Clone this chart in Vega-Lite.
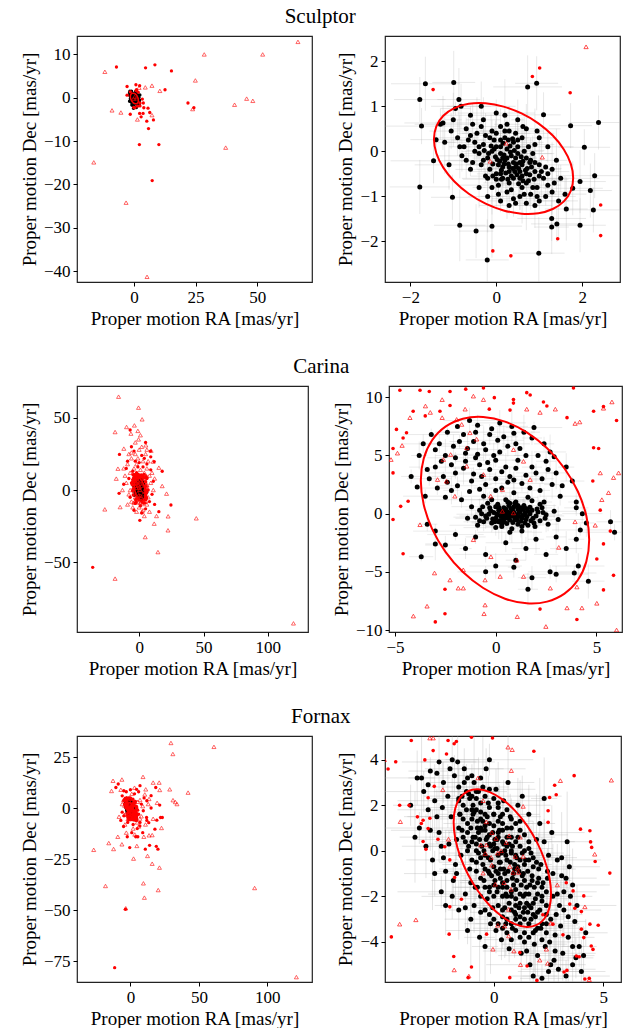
{
"$schema":"https://vega.github.io/schema/vega-lite/v6.json",
"padding":{"left":19,"top":6,"right":0,"bottom":0},
"config":{"view":{"stroke":"#222","strokeWidth":1.2},"font":"Liberation Serif",
"axis":{"grid":false,"domain":false,"tickColor":"black","tickSize":4,"labelFont":"Liberation Serif","labelFontSize":17,"labelColor":"black","titleFont":"Liberation Serif","titleFontSize":19,"titleFontWeight":"normal","titleColor":"black","labelPadding":3,"titlePadding":4,"labelFlush":false,"labelOverlap":false},
"title":{"font":"Liberation Serif","fontSize":21,"fontWeight":"normal","color":"black","anchor":"middle"}},
"datasets":{
"sm":[
{"x":0.2,"y":-0.2,"ex":0.3,"ey":0.25},{"x":0.35,"y":-0.1,"ex":0.5,"ey":0.4},{"x":0.05,"y":-0.3,"ex":0.2,"ey":0.6},{"x":0.45,"y":-0.35,"ex":0.7,"ey":0.2},{"x":-0.1,"y":0.0,"ex":0.4,"ey":0.5},{"x":0.3,"y":-0.45,"ex":0.9,"ey":0.3},{"x":0.6,"y":-0.3,"ex":0.25,"ey":0.7},{"x":0.1,"y":0.1,"ex":0.6,"ey":0.35},{"x":-0.2,"y":-0.15,"ex":0.35,"ey":0.15},{"x":0.5,"y":-0.05,"ex":0.8,"ey":0.55},
{"x":0.25,"y":0.05,"ex":0.15,"ey":0.45},{"x":0.0,"y":-0.5,"ex":0.45,"ey":0.8},{"x":0.7,"y":-0.5,"ex":0.3,"ey":0.25},{"x":-0.3,"y":0.15,"ex":0.5,"ey":0.4},{"x":0.15,"y":-0.6,"ex":0.2,"ey":0.6},{"x":0.4,"y":0.2,"ex":0.7,"ey":0.2},{"x":0.8,"y":-0.2,"ex":0.4,"ey":0.5},{"x":-0.05,"y":0.25,"ex":0.9,"ey":0.3},{"x":0.55,"y":-0.6,"ex":0.25,"ey":0.7},{"x":0.3,"y":-0.7,"ex":0.6,"ey":0.35},
{"x":-0.4,"y":-0.05,"ex":0.35,"ey":0.15},{"x":0.9,"y":-0.45,"ex":0.8,"ey":0.55},{"x":0.1,"y":-0.05,"ex":0.15,"ey":0.45},{"x":0.65,"y":0.0,"ex":0.45,"ey":0.8},{"x":-0.15,"y":-0.4,"ex":0.3,"ey":0.25},{"x":0.45,"y":-0.15,"ex":0.5,"ey":0.4},{"x":0.2,"y":0.3,"ex":0.2,"ey":0.6},{"x":0.75,"y":-0.65,"ex":0.7,"ey":0.2},{"x":-0.25,"y":0.35,"ex":0.4,"ey":0.5},{"x":0.05,"y":-0.75,"ex":0.9,"ey":0.3},
{"x":0.5,"y":0.1,"ex":0.25,"ey":0.7},{"x":0.35,"y":-0.55,"ex":0.6,"ey":0.35},{"x":-0.35,"y":-0.3,"ex":0.35,"ey":0.15},{"x":1.0,"y":-0.3,"ex":0.8,"ey":0.55},{"x":0.15,"y":-0.35,"ex":0.15,"ey":0.45},{"x":0.6,"y":-0.8,"ex":0.45,"ey":0.8},{"x":-0.1,"y":0.45,"ex":0.3,"ey":0.25},{"x":0.85,"y":-0.05,"ex":0.5,"ey":0.4},{"x":0.25,"y":-0.9,"ex":0.2,"ey":0.6},{"x":-0.5,"y":0.2,"ex":0.7,"ey":0.2},
{"x":0.4,"y":-0.25,"ex":0.4,"ey":0.5},{"x":0.0,"y":0.1,"ex":0.9,"ey":0.3},{"x":0.7,"y":-0.15,"ex":0.25,"ey":0.7},{"x":-0.2,"y":-0.6,"ex":0.6,"ey":0.35},{"x":1.1,"y":-0.6,"ex":0.35,"ey":0.15},{"x":0.3,"y":0.45,"ex":0.8,"ey":0.55},{"x":0.55,"y":-0.45,"ex":0.15,"ey":0.45},{"x":-0.45,"y":0.4,"ex":0.45,"ey":0.8},{"x":0.95,"y":-0.8,"ex":0.3,"ey":0.25},{"x":0.1,"y":0.55,"ex":0.5,"ey":0.4},
{"x":0.15,"y":-0.15,"ex":0.2,"ey":0.6},{"x":0.38,"y":-0.38,"ex":0.7,"ey":0.2},{"x":0.62,"y":-0.22,"ex":0.4,"ey":0.5},{"x":0.08,"y":-0.22,"ex":0.9,"ey":0.3},{"x":-0.12,"y":0.12,"ex":0.25,"ey":0.7},{"x":0.28,"y":-0.28,"ex":0.6,"ey":0.35},{"x":0.48,"y":-0.52,"ex":0.35,"ey":0.15},{"x":0.72,"y":-0.38,"ex":0.8,"ey":0.55},{"x":0.22,"y":-0.48,"ex":0.15,"ey":0.45},{"x":-0.02,"y":-0.12,"ex":0.45,"ey":0.8},
{"x":0.32,"y":0.12,"ex":0.3,"ey":0.25},{"x":0.52,"y":-0.72,"ex":0.5,"ey":0.4},{"x":0.18,"y":-0.08,"ex":0.2,"ey":0.6},{"x":0.42,"y":0.02,"ex":0.7,"ey":0.2},{"x":-0.28,"y":0.02,"ex":0.4,"ey":0.5},{"x":0.12,"y":-0.62,"ex":0.9,"ey":0.3},{"x":0.78,"y":-0.52,"ex":0.25,"ey":0.7},{"x":-0.08,"y":-0.28,"ex":0.6,"ey":0.35},{"x":0.58,"y":-0.12,"ex":0.35,"ey":0.15},{"x":0.88,"y":-0.62,"ex":0.8,"ey":0.55},
{"x":-0.7,"y":0.5,"ex":0.3,"ey":0.25},{"x":-0.9,"y":0.3,"ex":0.5,"ey":0.4},{"x":-1.0,"y":0.7,"ex":0.2,"ey":0.6},{"x":-0.6,"y":0.8,"ex":0.7,"ey":0.2},{"x":-0.3,"y":0.7,"ex":0.4,"ey":0.5},{"x":0.0,"y":0.85,"ex":0.9,"ey":0.3},{"x":-1.2,"y":0.2,"ex":0.25,"ey":0.7},{"x":-0.8,"y":-0.1,"ex":0.6,"ey":0.35},{"x":-0.6,"y":-0.4,"ex":0.35,"ey":0.15},{"x":-1.1,"y":-0.3,"ex":0.8,"ey":0.55},
{"x":-0.4,"y":-0.8,"ex":0.15,"ey":0.45},{"x":-0.2,"y":-1.0,"ex":0.45,"ey":0.8},{"x":0.1,"y":-1.1,"ex":0.3,"ey":0.25},{"x":0.4,"y":-1.05,"ex":0.5,"ey":0.4},{"x":0.7,"y":-1.15,"ex":0.2,"ey":0.6},{"x":1.0,"y":-1.1,"ex":0.7,"ey":0.2},{"x":1.3,"y":-0.9,"ex":0.4,"ey":0.5},{"x":1.5,"y":-0.6,"ex":0.9,"ey":0.3},{"x":1.4,"y":-0.2,"ex":0.25,"ey":0.7},{"x":1.2,"y":0.1,"ex":0.6,"ey":0.35},
{"x":1.0,"y":0.3,"ex":0.35,"ey":0.15},{"x":0.7,"y":0.5,"ex":0.8,"ey":0.55},{"x":0.5,"y":0.7,"ex":0.15,"ey":0.45},{"x":0.2,"y":0.8,"ex":0.45,"ey":0.8},{"x":-0.5,"y":0.0,"ex":0.3,"ey":0.25},{"x":-0.7,"y":-0.2,"ex":0.5,"ey":0.4},{"x":1.3,"y":-0.4,"ex":0.2,"ey":0.6},{"x":1.15,"y":-1.0,"ex":0.7,"ey":0.2},{"x":0.9,"y":-1.2,"ex":0.4,"ey":0.5},{"x":0.55,"y":-1.0,"ex":0.9,"ey":0.3},
{"x":-0.85,"y":0.1,"ex":0.25,"ey":0.7},{"x":-1.3,"y":0.6,"ex":0.6,"ey":0.35},{"x":-0.95,"y":0.95,"ex":0.35,"ey":0.15},{"x":-0.35,"y":1.0,"ex":0.8,"ey":0.55},{"x":0.6,"y":0.3,"ex":0.15,"ey":0.45},{"x":0.9,"y":0.15,"ex":0.45,"ey":0.8},{"x":1.2,"y":-0.75,"ex":0.3,"ey":0.25},{"x":1.6,"y":-0.95,"ex":0.5,"ey":0.4},{"x":-0.1,"y":-0.8,"ex":0.2,"ey":0.6},{"x":0.3,"y":-1.2,"ex":0.7,"ey":0.2},
{"x":-0.65,"y":0.25,"ex":0.4,"ey":0.5},{"x":0.45,"y":0.4,"ex":0.9,"ey":0.3},{"x":1.05,"y":-0.45,"ex":0.25,"ey":0.7},{"x":0.8,"y":-0.95,"ex":0.6,"ey":0.35},{"x":-0.25,"y":-0.55,"ex":0.35,"ey":0.15},{"x":0.0,"y":0.4,"ex":0.8,"ey":0.55},{"x":-0.55,"y":0.6,"ex":0.15,"ey":0.45},{"x":1.45,"y":-1.1,"ex":0.45,"ey":0.8},{"x":0.25,"y":0.6,"ex":0.3,"ey":0.25},{"x":-1.05,"y":0.45,"ex":0.5,"ey":0.4},
{"x":-1.78,"y":1.15,"ex":0.6,"ey":0.5},{"x":-1.65,"y":1.5,"ex":0.8,"ey":0.6},{"x":-0.99,"y":1.53,"ex":0.5,"ey":0.7},{"x":-1.74,"y":0.56,"ex":0.9,"ey":0.4},{"x":-1.78,"y":-0.79,"ex":0.7,"ey":0.6},{"x":-1.02,"y":-1.02,"ex":0.5,"ey":0.5},{"x":-0.85,"y":-1.64,"ex":0.6,"ey":0.8},{"x":-0.47,"y":-1.77,"ex":0.4,"ey":0.6},{"x":-0.1,"y":-1.66,"ex":0.7,"ey":0.7},{"x":-0.21,"y":-2.41,"ex":0.5,"ey":0.9},
{"x":0.99,"y":-2.26,"ex":0.6,"ey":0.8},{"x":0.94,"y":1.51,"ex":0.5,"ey":0.6},{"x":0.73,"y":1.43,"ex":0.8,"ey":0.7},{"x":1.1,"y":0.81,"ex":0.4,"ey":0.5},{"x":2.38,"y":0.64,"ex":0.7,"ey":0.6},{"x":2.05,"y":0.09,"ex":0.6,"ey":0.4},{"x":2.29,"y":-0.54,"ex":0.9,"ey":0.5},{"x":2.19,"y":-0.87,"ex":0.5,"ey":0.6},{"x":1.95,"y":-0.67,"ex":0.6,"ey":0.7},{"x":2.26,"y":-1.3,"ex":0.7,"ey":0.5},
{"x":1.95,"y":-1.64,"ex":0.6,"ey":0.6},{"x":1.63,"y":-1.28,"ex":0.5,"ey":0.7},{"x":1.29,"y":-1.49,"ex":0.8,"ey":0.5},{"x":1.29,"y":-1.68,"ex":0.4,"ey":0.6},{"x":1.41,"y":-1.61,"ex":0.6,"ey":0.4},{"x":1.78,"y":-0.82,"ex":0.7,"ey":0.6},{"x":1.73,"y":0.57,"ex":0.5,"ey":0.5},{"x":-1.24,"y":0.63,"ex":0.9,"ey":0.6},{"x":-1.4,"y":0.26,"ex":0.6,"ey":0.4},{"x":-1.46,"y":-0.21,"ex":1.0,"ey":0.5},
{"x":-0.87,"y":1.15,"ex":0.5,"ey":0.7},{"x":-0.82,"y":1.0,"ex":0.7,"ey":0.5}
],
"sx":[
{"x":0.02,"y":-0.18},{"x":0.12,"y":-0.42},{"x":0.33,"y":-0.02},{"x":0.55,"y":-0.25},{"x":0.68,"y":-0.42},{"x":0.27,"y":-0.62},{"x":0.43,"y":-0.45},{"x":-0.05,"y":0.05},{"x":0.16,"y":0.18},{"x":0.38,"y":0.28},
{"x":0.6,"y":-0.55},{"x":0.82,"y":-0.35},{"x":0.0,"y":-0.62},{"x":-0.18,"y":-0.05},{"x":0.25,"y":-0.15},{"x":0.47,"y":-0.28},{"x":0.7,"y":-0.7},{"x":0.9,"y":-0.25},{"x":0.1,"y":-0.5},{"x":-0.3,"y":-0.2},
{"x":0.35,"y":-0.85},{"x":0.65,"y":-0.95},{"x":1.0,"y":-0.55},{"x":0.2,"y":0.45},{"x":-0.15,"y":0.3},{"x":0.5,"y":0.25},{"x":0.75,"y":0.1},{"x":-0.4,"y":0.1},{"x":0.05,"y":-0.95},{"x":0.85,"y":-0.8},
{"x":1.15,"y":-0.35},{"x":0.3,"y":-0.35},{"x":0.52,"y":-0.38},{"x":0.18,"y":-0.28},{"x":0.4,"y":-0.6},{"x":0.62,"y":-0.65},{"x":-0.08,"y":-0.55},{"x":0.1,"y":0.25},{"x":0.28,"y":0.25},{"x":0.78,"y":-0.25},
{"x":1.2,"y":-0.5},{"x":0.95,"y":-1.0},{"x":0.45,"y":-1.15},{"x":-0.35,"y":0.55},{"x":-0.6,"y":0.35},{"x":-0.75,"y":0.1},{"x":0.62,"y":0.55},{"x":0.95,"y":0.45},{"x":1.35,"y":-0.7},{"x":-0.55,"y":-0.25}
],
"so":[
{"c":"d","x":-7.1,"y":7.1},{"c":"d","x":4.7,"y":6.9},{"c":"d","x":8.5,"y":7.6},{"c":"d","x":15.2,"y":6.2},{"c":"d","x":-2.8,"y":2.6},{"c":"d","x":0.8,"y":3.0},{"c":"d","x":2.3,"y":2.8},{"c":"d","x":12.6,"y":1.85},{"c":"d","x":21.9,"y":-1.2},{"c":"d","x":24.3,"y":-2.3},{"c":"d","x":-2.8,"y":0.6},{"c":"d","x":-1.5,"y":-3.8},{"c":"d","x":2.3,"y":-3.6},{"c":"d","x":3.7,"y":-3.6},{"c":"d","x":4.0,"y":-2.3},{"c":"d","x":5.7,"y":-2.4},{"c":"d","x":6.4,"y":-3.4},{"c":"d","x":2.9,"y":-4.4},{"c":"d","x":5.2,"y":-5.4},{"c":"d","x":7.9,"y":-5.1},{"c":"d","x":5.9,"y":-7.1},{"c":"d","x":2.2,"y":-10.8},{"c":"d","x":10.1,"y":-10.8},{"c":"d","x":7.4,"y":-19.1},{"c":"d","x":3.8,"y":-1.2},{"c":"d","x":3.4,"y":-0.3},
{"c":"d","x":-1.47,"y":1.37},{"c":"d","x":0.84,"y":1.66},{"c":"d","x":1.01,"y":1.85},{"c":"d","x":1.72,"y":1.3},{"c":"d","x":2.43,"y":-1.19},{"c":"d","x":2.43,"y":-1.87},{"c":"d","x":1.43,"y":-1.94},{"c":"d","x":-0.08,"y":-2.21},{"c":"d","x":0.34,"y":-2.32},
{"c":"t","x":66.5,"y":12.9},{"c":"t","x":28.5,"y":10},{"c":"t","x":52.2,"y":10},{"c":"t","x":-11.8,"y":6.0},{"c":"t","x":24.9,"y":4.0},{"c":"t","x":7.3,"y":2.8},{"c":"t","x":4.6,"y":2.4},{"c":"t","x":10.5,"y":1.6},{"c":"t","x":45.7,"y":-0.2},{"c":"t","x":48.2,"y":-0.7},{"c":"t","x":40.8,"y":-1.6},{"c":"t","x":23.8,"y":-2.6},{"c":"t","x":-8.9,"y":-2.9},{"c":"t","x":-5.3,"y":-3.4},{"c":"t","x":1.4,"y":-5.0},{"c":"t","x":7.3,"y":-4.0},{"c":"t","x":37.2,"y":-11.5},{"c":"t","x":-16.3,"y":-14.9},{"c":"t","x":-3.2,"y":-24.2},{"c":"t","x":5.3,"y":-41.3},{"c":"t","x":2.09,"y":2.32},{"c":"t","x":-0.14,"y":-0.22},{"c":"t","x":0.23,"y":0.18},{"c":"t","x":1.07,"y":-0.13}
],
"se":[
{"i":0,"x":1.79,"y":-0.592},{"i":1,"x":1.735,"y":-0.279},{"i":2,"x":1.573,"y":0.042},{"i":3,"x":1.315,"y":0.35},{"i":4,"x":0.98,"y":0.622},{"i":5,"x":0.589,"y":0.841},{"i":6,"x":0.17,"y":0.992},{"i":7,"x":-0.249,"y":1.065},{"i":8,"x":-0.64,"y":1.054},{"i":9,"x":-0.975,"y":0.96},{"i":10,"x":-1.233,"y":0.79},{"i":11,"x":-1.395,"y":0.555},{"i":12,"x":-1.45,"y":0.272},{"i":13,"x":-1.395,"y":-0.041},{"i":14,"x":-1.233,"y":-0.362},{"i":15,"x":-0.975,"y":-0.67},{"i":16,"x":-0.64,"y":-0.942},{"i":17,"x":-0.249,"y":-1.161},{"i":18,"x":0.17,"y":-1.312},{"i":19,"x":0.589,"y":-1.385},{"i":20,"x":0.98,"y":-1.374},{"i":21,"x":1.315,"y":-1.28},{"i":22,"x":1.573,"y":-1.11},{"i":23,"x":1.735,"y":-0.875}
],
"cm":[
{"x":0.5,"y":0,"ex":0.5,"ey":0.6},{"x":0.2,"y":0.3,"ex":1.0,"ey":0.8},{"x":0.8,"y":-0.2,"ex":0.4,"ey":1.2},{"x":0,"y":-0.4,"ex":1.4,"ey":0.5},{"x":1.2,"y":0.1,"ex":0.7,"ey":1.0},{"x":0.4,"y":-0.7,"ex":1.6,"ey":0.7},{"x":-0.3,"y":0.5,"ex":0.5,"ey":1.4},{"x":1.5,"y":-0.5,"ex":1.1,"ey":0.6},{"x":0.9,"y":0.6,"ex":0.6,"ey":0.4},{"x":-0.5,"y":-0.2,"ex":1.3,"ey":1.1},
{"x":1.8,"y":0.3,"ex":0.3,"ey":0.9},{"x":0.3,"y":-1.1,"ex":0.8,"ey":1.5},{"x":1.1,"y":-0.9,"ex":0.5,"ey":0.6},{"x":-0.2,"y":-0.8,"ex":1.0,"ey":0.8},{"x":0.7,"y":0.9,"ex":0.4,"ey":1.2},{"x":2.0,"y":-0.2,"ex":1.4,"ey":0.5},{"x":-0.8,"y":0.3,"ex":0.7,"ey":1.0},{"x":1.4,"y":0.7,"ex":1.6,"ey":0.7},{"x":0.1,"y":0.8,"ex":0.5,"ey":1.4},{"x":0.6,"y":-0.4,"ex":1.1,"ey":0.6},
{"x":1.0,"y":-0.1,"ex":0.6,"ey":0.4},{"x":0.3,"y":0.1,"ex":1.3,"ey":1.1},{"x":-0.1,"y":0.1,"ex":0.3,"ey":0.9},{"x":1.6,"y":-1.0,"ex":0.8,"ey":1.5},{"x":2.3,"y":0.5,"ex":0.5,"ey":0.6},{"x":-0.6,"y":-0.7,"ex":1.0,"ey":0.8},{"x":0.8,"y":-1.3,"ex":0.4,"ey":1.2},{"x":0.5,"y":1.2,"ex":1.4,"ey":0.5},{"x":1.3,"y":-0.4,"ex":0.7,"ey":1.0},{"x":0,"y":-1.2,"ex":1.6,"ey":0.7},
{"x":1.9,"y":-0.8,"ex":0.5,"ey":1.4},{"x":-1.0,"y":-0.3,"ex":1.1,"ey":0.6},{"x":2.2,"y":-0.6,"ex":0.6,"ey":0.4},{"x":0.4,"y":0.5,"ex":1.3,"ey":1.1},{"x":-0.4,"y":0.9,"ex":0.3,"ey":0.9},{"x":1.1,"y":0.4,"ex":0.8,"ey":1.5},{"x":0.65,"y":-0.15,"ex":0.5,"ey":0.6},{"x":0.25,"y":-0.25,"ex":1.0,"ey":0.8},{"x":1.45,"y":0.05,"ex":0.4,"ey":1.2},{"x":0.85,"y":0.25,"ex":1.4,"ey":0.5},
{"x":-0.15,"y":-0.45,"ex":0.7,"ey":1.0},{"x":0.55,"y":-0.85,"ex":1.6,"ey":0.7},{"x":1.25,"y":-0.65,"ex":0.5,"ey":1.4},{"x":1.7,"y":0,"ex":1.1,"ey":0.6},{"x":0.15,"y":0.55,"ex":0.6,"ey":0.4},{"x":0.95,"y":-0.5,"ex":1.3,"ey":1.1},{"x":-0.7,"y":0,"ex":0.3,"ey":0.9},{"x":2.5,"y":-0.1,"ex":0.8,"ey":1.5},{"x":1.0,"y":1.0,"ex":0.5,"ey":0.6},{"x":0.35,"y":-0.55,"ex":1.0,"ey":0.8},
{"x":0.75,"y":0.45,"ex":0.4,"ey":1.2},{"x":1.55,"y":-0.25,"ex":1.4,"ey":0.5},{"x":0.05,"y":-0.05,"ex":0.7,"ey":1.0},{"x":-0.35,"y":-0.05,"ex":1.6,"ey":0.7},{"x":2.1,"y":0.15,"ex":0.5,"ey":1.4},{"x":0.45,"y":0.2,"ex":1.1,"ey":0.6},{"x":1.15,"y":-0.25,"ex":0.6,"ey":0.4},{"x":0.6,"y":0.15,"ex":1.3,"ey":1.1},{"x":1.35,"y":0.35,"ex":0.3,"ey":0.9},{"x":0.15,"y":-0.7,"ex":0.8,"ey":1.5},
{"x":2.6,"y":-0.9,"ex":0.5,"ey":0.6},{"x":-1.2,"y":0.6,"ex":1.0,"ey":0.8},{"x":2.4,"y":1.0,"ex":0.4,"ey":1.2},{"x":-0.9,"y":-1.0,"ex":1.4,"ey":0.5},{"x":1.8,"y":1.1,"ex":0.7,"ey":1.0},{"x":0.7,"y":-1.6,"ex":1.6,"ey":0.7},{"x":1.3,"y":-1.5,"ex":0.5,"ey":1.4},{"x":2.9,"y":0.2,"ex":1.1,"ey":0.6},{"x":-1.4,"y":-0.4,"ex":0.6,"ey":0.4},{"x":3.1,"y":-0.5,"ex":1.3,"ey":1.1},
{"x":-1.5,"y":4.5,"ex":0.5,"ey":0.6},{"x":-0.5,"y":5.5,"ex":1.0,"ey":0.8},{"x":0.5,"y":4.0,"ex":0.4,"ey":1.2},{"x":-2.0,"y":3.5,"ex":1.4,"ey":0.5},{"x":1.0,"y":6.0,"ex":0.7,"ey":1.0},{"x":-1.0,"y":7.0,"ex":1.6,"ey":0.7},{"x":-2.5,"y":5.0,"ex":0.5,"ey":1.4},{"x":0,"y":3.0,"ex":1.1,"ey":0.6},{"x":1.5,"y":5.0,"ex":0.6,"ey":0.4},{"x":-3.0,"y":4.0,"ex":1.3,"ey":1.1},
{"x":-0.3,"y":6.8,"ex":0.3,"ey":0.9},{"x":0.8,"y":7.5,"ex":0.8,"ey":1.5},{"x":-1.8,"y":6.2,"ex":0.5,"ey":0.6},{"x":2.0,"y":3.5,"ex":1.0,"ey":0.8},{"x":-2.2,"y":2.0,"ex":0.4,"ey":1.2},{"x":0.3,"y":2.2,"ex":1.4,"ey":0.5},{"x":-1.2,"y":2.8,"ex":0.7,"ey":1.0},{"x":1.3,"y":2.6,"ex":1.6,"ey":0.7},{"x":2.5,"y":4.5,"ex":0.5,"ey":1.4},{"x":-3.3,"y":3.0,"ex":1.1,"ey":0.6},
{"x":-0.8,"y":4.2,"ex":0.6,"ey":0.4},{"x":-0.1,"y":5.0,"ex":1.3,"ey":1.1},{"x":0.6,"y":5.8,"ex":0.3,"ey":0.9},{"x":-1.4,"y":5.6,"ex":0.8,"ey":1.5},{"x":1.8,"y":6.5,"ex":0.5,"ey":0.6},{"x":-2.8,"y":6.0,"ex":1.0,"ey":0.8},{"x":2.8,"y":2.5,"ex":0.4,"ey":1.2},{"x":-0.6,"y":1.5,"ex":1.4,"ey":0.5},{"x":0.9,"y":1.8,"ex":0.7,"ey":1.0},{"x":-1.7,"y":1.2,"ex":1.6,"ey":0.7},
{"x":3.0,"y":3.5,"ex":0.5,"ey":1.4},{"x":-3.5,"y":1.5,"ex":1.1,"ey":0.6},{"x":-2.4,"y":7.0,"ex":0.6,"ey":0.4},{"x":0.2,"y":7.8,"ex":1.3,"ey":1.1},{"x":-0.9,"y":7.6,"ex":0.3,"ey":0.9},{"x":1.4,"y":7.0,"ex":0.8,"ey":1.5},{"x":2.4,"y":6.0,"ex":0.5,"ey":0.6},{"x":3.2,"y":1.5,"ex":1.0,"ey":0.8},{"x":-3.8,"y":5.0,"ex":0.4,"ey":1.2},{"x":-2.0,"y":4.8,"ex":1.4,"ey":0.5},
{"x":-0.3,"y":3.8,"ex":0.7,"ey":1.0},{"x":0.7,"y":3.2,"ex":1.6,"ey":0.7},{"x":1.8,"y":4.0,"ex":0.5,"ey":1.4},{"x":-1.1,"y":3.4,"ex":1.1,"ey":0.6},{"x":-2.6,"y":3.2,"ex":0.6,"ey":0.4},{"x":0.1,"y":6.3,"ex":1.3,"ey":1.1},{"x":1.1,"y":4.6,"ex":0.3,"ey":0.9},{"x":-0.6,"y":6.0,"ex":0.8,"ey":1.5},{"x":2.2,"y":2.0,"ex":0.5,"ey":0.6},{"x":-1.9,"y":2.4,"ex":1.0,"ey":0.8},
{"x":3.5,"y":4.0,"ex":0.4,"ey":1.2},{"x":-3.2,"y":6.8,"ex":1.4,"ey":0.5},{"x":0.4,"y":6.6,"ex":0.7,"ey":1.0},{"x":-0.2,"y":1.2,"ex":1.6,"ey":0.7},{"x":1.6,"y":1.4,"ex":0.5,"ey":1.4},{"x":-2.9,"y":2.2,"ex":1.1,"ey":0.6},{"x":3.8,"y":2.8,"ex":0.6,"ey":0.4},{"x":-1.3,"y":8.0,"ex":1.3,"ey":1.1},{"x":-0.5,"y":2.5,"ex":0.3,"ey":0.9},{"x":2.7,"y":5.3,"ex":0.8,"ey":1.5},
{"x":-4.2,"y":3.2,"ex":0.5,"ey":0.6},{"x":-3.6,"y":6.0,"ex":1.0,"ey":0.8},{"x":4.0,"y":1.0,"ex":0.4,"ey":1.2},{"x":1.9,"y":7.4,"ex":1.4,"ey":0.5},{"x":-2.1,"y":5.8,"ex":0.7,"ey":1.0},{"x":0.9,"y":2.9,"ex":1.6,"ey":0.7},{"x":-1.6,"y":3.9,"ex":0.5,"ey":1.4},{"x":0,"y":4.6,"ex":1.1,"ey":0.6},{"x":2.3,"y":3.0,"ex":0.6,"ey":0.4},{"x":-0.9,"y":5.1,"ex":1.3,"ey":1.1},
{"x":-1.0,"y":-2.0,"ex":0.5,"ey":0.6},{"x":0.5,"y":-2.5,"ex":1.0,"ey":0.8},{"x":2.0,"y":-2.2,"ex":0.4,"ey":1.2},{"x":-2.0,"y":-1.8,"ex":1.4,"ey":0.5},{"x":1.5,"y":-3.0,"ex":0.7,"ey":1.0},{"x":-0.5,"y":-3.5,"ex":1.6,"ey":0.7},{"x":3.0,"y":-2.0,"ex":0.5,"ey":1.4},{"x":-3.0,"y":-1.5,"ex":1.1,"ey":0.6},{"x":2.5,"y":-3.5,"ex":0.6,"ey":0.4},{"x":0,"y":-4.5,"ex":1.3,"ey":1.1},
{"x":-1.5,"y":-3.0,"ex":0.3,"ey":0.9},{"x":3.5,"y":-3.0,"ex":0.8,"ey":1.5},{"x":1.0,"y":-4.0,"ex":0.5,"ey":0.6},{"x":-2.5,"y":-2.7,"ex":1.0,"ey":0.8},{"x":4.0,"y":-2.2,"ex":0.4,"ey":1.2},{"x":-0.5,"y":-5.0,"ex":1.4,"ey":0.5},{"x":1.8,"y":-5.5,"ex":0.7,"ey":1.0},{"x":3.0,"y":-5.2,"ex":1.6,"ey":0.7},{"x":1.6,"y":-6.5,"ex":0.5,"ey":1.4},{"x":2.7,"y":-5.0,"ex":1.1,"ey":0.6},
{"x":-3.7,"y":-3.7,"ex":0.6,"ey":0.4},{"x":4.1,"y":-4.5,"ex":1.3,"ey":1.1},{"x":0.9,"y":-4.6,"ex":0.3,"ey":0.9},{"x":4.6,"y":-5.8,"ex":0.8,"ey":1.5},{"x":-3.4,"y":-0.9,"ex":0.5,"ey":0.6},{"x":4.3,"y":0,"ex":1.0,"ey":0.8},{"x":4.5,"y":-0.8,"ex":0.4,"ey":1.2},{"x":4.2,"y":-1.4,"ex":1.4,"ey":0.5},{"x":5.7,"y":-0.7,"ex":0.7,"ey":1.0},{"x":5.9,"y":-1.6,"ex":1.6,"ey":0.7},
{"x":-3.0,"y":-2.6,"ex":0.5,"ey":1.4},{"x":3.9,"y":-5.1,"ex":1.1,"ey":0.6},{"x":4.0,"y":0.5,"ex":0.6,"ey":0.4}
],
"cx":[
{"x":0.1,"y":-0.1},{"x":0.35,"y":0.05},{"x":0.55,"y":-0.3},{"x":0.75,"y":0.05},{"x":0.95,"y":-0.3},{"x":1.15,"y":0.15},{"x":1.35,"y":-0.15},{"x":1.6,"y":0.2},{"x":1.85,"y":-0.4},{"x":2.05,"y":0.4},
{"x":0.2,"y":-0.6},{"x":0.5,"y":0.4},{"x":0.85,"y":-0.75},{"x":1.1,"y":0.7},{"x":1.45,"y":-0.8},{"x":1.7,"y":0.55},{"x":-0.25,"y":0.25},{"x":-0.45,"y":-0.4},{"x":0.0,"y":0.6},{"x":0.3,"y":-0.9},
{"x":0.65,"y":0.7},{"x":0.95,"y":0.9},{"x":1.3,"y":-1.1},{"x":1.95,"y":-1.1},{"x":2.2,"y":0.8},{"x":2.45,"y":-0.4},{"x":-0.65,"y":0.6},{"x":-0.8,"y":-0.6},{"x":0.4,"y":-0.2},{"x":0.7,"y":-0.55},
{"x":1.05,"y":-0.55},{"x":1.25,"y":0.5},{"x":1.5,"y":0.45},{"x":0.15,"y":0.3},{"x":-0.05,"y":-0.7},{"x":0.6,"y":1.0},{"x":1.75,"y":-0.6},{"x":2.35,"y":0.1},{"x":0.9,"y":0.1},{"x":0.45,"y":-0.4},
{"x":-2.2,"y":4.2},{"x":-1.0,"y":4.8},{"x":0.2,"y":5.3},{"x":-1.6,"y":6.8},{"x":-0.2,"y":7.3},{"x":1.2,"y":5.6},{"x":-2.7,"y":4.5},{"x":-0.7,"y":3.2},{"x":0.6,"y":2.7},{"x":1.5,"y":3.3},
{"x":-1.3,"y":1.9},{"x":-2.4,"y":2.7},{"x":2.1,"y":5.0},{"x":-3.0,"y":5.5},{"x":-0.4,"y":4.4},{"x":0.9,"y":6.9},{"x":-1.9,"y":7.5},{"x":2.6,"y":3.8},{"x":-3.4,"y":3.8},{"x":0.3,"y":3.6},
{"x":-1.1,"y":6.2},{"x":1.7,"y":2.2},{"x":-0.8,"y":2.1},{"x":3.3,"y":2.4},{"x":-2.5,"y":1.4},{"x":0.0,"y":2.0},{"x":1.0,"y":3.9},{"x":-1.5,"y":5.2},{"x":2.9,"y":4.9},{"x":-3.9,"y":2.3}
],
"co":[
{"c":"d","x":-4.76,"y":10.6},{"c":"d","x":-3.76,"y":10.6},{"c":"d","x":-3.3,"y":10.5},{"c":"d","x":-2.27,"y":10.5},{"c":"d","x":-1.49,"y":10.7},{"c":"d","x":-0.61,"y":10.8},{"c":"d","x":0.88,"y":9.5},{"c":"d","x":1.71,"y":10.2},{"c":"d","x":3.86,"y":10.8},{"c":"d","x":4.86,"y":8.8},{"c":"d","x":5.35,"y":9.2},{"c":"d","x":-4.1,"y":8.8},{"c":"d","x":-4.93,"y":7.24},{"c":"d","x":-4.43,"y":6.95},{"c":"d","x":-5.1,"y":5.6},{"c":"d","x":-5.1,"y":3.5},{"c":"d","x":-5.1,"y":-0.5},{"c":"d","x":-4.35,"y":1.06},{"c":"d","x":-4.6,"y":-3.45},{"c":"d","x":-2.52,"y":-6.5},{"c":"d","x":-2.52,"y":-8.6},{"c":"d","x":-3.0,"y":-9.3},{"c":"d","x":2.2,"y":-8.2},{"c":"d","x":4.03,"y":-9.1},{"c":"d","x":5.02,"y":-3.9},{"c":"d","x":5.35,"y":-6.55},{"c":"d","x":5.85,"y":-5.3},{"c":"d","x":5.35,"y":-2.6},{"c":"d","x":5.69,"y":-1.5},{"c":"d","x":5.19,"y":0.3},{"c":"d","x":4.86,"y":5.66},{"c":"d","x":5.11,"y":5.6},{"c":"d","x":3.54,"y":8.25},{"c":"d","x":2.37,"y":9.6},{"c":"d","x":2.54,"y":9.25},{"c":"d","x":4.82,"y":2.8},{"c":"d","x":-2.27,"y":9.3},{"c":"d","x":-2.77,"y":8.8},{"c":"d","x":-3.5,"y":8.4},{"c":"d","x":-4.6,"y":6.5},{"c":"d","x":-4.72,"y":0.63},{"c":"d","x":0.71,"y":8.9},{"c":"d","x":0.88,"y":9.8},{"c":"d","x":1.54,"y":10.4},{"c":"d","x":-0.07,"y":9.97},{"c":"d","x":-0.32,"y":8.98},
{"c":"t","x":-4.26,"y":8.25},{"c":"t","x":-4.65,"y":5.86},{"c":"t","x":-4.88,"y":5.2},{"c":"t","x":-5.2,"y":4.65},{"c":"t","x":-2.66,"y":9.8},{"c":"t","x":-3.49,"y":9.25},{"c":"t","x":-3.25,"y":8.7},{"c":"t","x":-2.66,"y":8.25},{"c":"t","x":-1.94,"y":8.1},{"c":"t","x":-1.69,"y":7.67},{"c":"t","x":-1.28,"y":6.95},{"c":"t","x":-0.95,"y":6.4},{"c":"t","x":-1.44,"y":5.66},{"c":"t","x":-2.24,"y":5.08},{"c":"t","x":-2.6,"y":4.65},{"c":"t","x":-2.89,"y":2.93},{"c":"t","x":-2.45,"y":2.79},{"c":"t","x":-2.03,"y":1.5},{"c":"t","x":-1.44,"y":4.08},{"c":"t","x":-0.61,"y":3.36},{"c":"t","x":0.88,"y":5.5},{"c":"t","x":1.38,"y":4.5},{"c":"t","x":1.71,"y":2.93},{"c":"t","x":0.33,"y":2.07},{"c":"t","x":-0.25,"y":1.5},{"c":"t","x":0.33,"y":0.2},{"c":"t","x":0.88,"y":0.06},{"c":"t","x":-1.11,"y":-2.24},{"c":"t","x":-1.61,"y":-4.83},{"c":"t","x":-0.53,"y":-5.7},{"c":"t","x":0.22,"y":-5.4},{"c":"t","x":-0.24,"y":-3.7},{"c":"t","x":1.05,"y":-4.0},{"c":"t","x":1.38,"y":-5.4},{"c":"t","x":2.71,"y":-6.4},{"c":"t","x":3.13,"y":-2.9},{"c":"t","x":3.94,"y":-0.7},{"c":"t","x":4.03,"y":-6.3},{"c":"t","x":3.54,"y":-8.1},{"c":"t","x":4.28,"y":-8.1},{"c":"t","x":5.02,"y":-7.7},{"c":"t","x":2.49,"y":-9.7},{"c":"t","x":1.07,"y":-8.85},{"c":"t","x":-0.58,"y":-8.6},{"c":"t","x":-0.53,"y":-7.85},{"c":"t","x":-1.61,"y":-6.4},{"c":"t","x":-1.86,"y":-6.4},{"c":"t","x":-3.04,"y":-5.1},{"c":"t","x":-3.41,"y":-7.95},{"c":"t","x":-4.09,"y":-8.8},{"c":"t","x":-2.27,"y":-5.7},{"c":"t","x":-3.76,"y":-0.95},{"c":"t","x":5.19,"y":3.5},{"c":"t","x":5.6,"y":1.8},{"c":"t","x":5.27,"y":1.2},{"c":"t","x":5.85,"y":3.1},{"c":"t","x":6.1,"y":3.5},{"c":"t","x":5.77,"y":9.6},{"c":"t","x":5.35,"y":9.06},{"c":"t","x":4.94,"y":-1.0},{"c":"t","x":3.94,"y":7.75},{"c":"t","x":4.17,"y":7.88},{"c":"t","x":2.96,"y":8.98},{"c":"t","x":1.54,"y":8.98},{"c":"t","x":2.2,"y":8.7},{"c":"t","x":-0.61,"y":9.8},{"c":"t","x":-1.11,"y":10.1},{"c":"t","x":-1.52,"y":8.98},
{"c":"t","x":-16.0,"y":64.7},{"c":"t","x":-0.5,"y":57.1},{"c":"t","x":2.3,"y":49},{"c":"t","x":-18.7,"y":40.2},{"c":"t","x":-3.7,"y":44.8},{"c":"t","x":-9.8,"y":43.7},{"c":"t","x":-6.4,"y":39.1},{"c":"t","x":-1,"y":41},{"c":"t","x":-0.5,"y":35.1},{"c":"t","x":-26.7,"y":-13.4},{"c":"t","x":44.4,"y":-19.6},{"c":"t","x":22.4,"y":-27.9},{"c":"t","x":14.6,"y":-43},{"c":"t","x":4.7,"y":-32.6},{"c":"t","x":-18.7,"y":-61.4},{"c":"t","x":119.9,"y":-92.4},{"c":"t","x":22.5,"y":-18.2},{"c":"t","x":11.7,"y":-23.3},{"c":"t","x":21.3,"y":-2.5},{"c":"t","x":17.9,"y":2.8},{"c":"t","x":15.3,"y":15.5},{"c":"t","x":-11.9,"y":28.7},{"c":"t","x":-17.8,"y":7.9},{"c":"t","x":-14.8,"y":-11.8},{"c":"t","x":9.3,"y":27.3},{"c":"t","x":5.2,"y":31},{"c":"t","x":-16.5,"y":14.8},{"c":"t","x":10.9,"y":19.7},{"c":"t","x":-6,"y":26},{"c":"t","x":13.5,"y":-18},{"c":"t","x":2.3,"y":-15},
{"c":"d","x":-36.1,"y":-53.6},{"c":"d","x":-15.3,"y":24.7},{"c":"d","x":-7.0,"y":41.6},{"c":"d","x":24.7,"y":-10.4},{"c":"d","x":17.9,"y":13},{"c":"d","x":11.7,"y":19.7},{"c":"d","x":0.5,"y":-21},{"c":"d","x":15.3,"y":-15},{"c":"d","x":-15.6,"y":-2.3},{"c":"d","x":8.8,"y":27},
{"c":"t","x":-7,"y":12},{"c":"t","x":-9,"y":18},{"c":"t","x":-6,"y":22},{"c":"t","x":-3,"y":25},{"c":"t","x":0,"y":28},{"c":"t","x":3,"y":20},{"c":"t","x":6,"y":15},{"c":"t","x":8,"y":10},{"c":"t","x":9,"y":5},{"c":"t","x":7,"y":-5},{"c":"t","x":6,"y":-10},{"c":"t","x":-6,"y":-8},{"c":"t","x":-8,"y":-3},{"c":"t","x":-10,"y":5},{"c":"t","x":-11,"y":10},{"c":"t","x":-8,"y":25},{"c":"t","x":2,"y":30},{"c":"t","x":5,"y":25},{"c":"t","x":-4,"y":15},{"c":"t","x":-2,"y":18},{"c":"t","x":1,"y":14},{"c":"t","x":4,"y":12},{"c":"t","x":-5,"y":-12},{"c":"t","x":3,"y":-14},{"c":"t","x":8,"y":-15},{"c":"t","x":-2,"y":-15},{"c":"t","x":10,"y":12},{"c":"t","x":-12,"y":15},{"c":"t","x":-1,"y":22},{"c":"t","x":6,"y":28},{"c":"t","x":0,"y":-12},{"c":"t","x":-7,"y":0},{"c":"t","x":11,"y":0},{"c":"t","x":7,"y":20},{"c":"t","x":-9,"y":-10},{"c":"t","x":4,"y":-18},{"c":"t","x":12,"y":8},{"c":"t","x":-13,"y":0},{"c":"t","x":-3,"y":33},{"c":"t","x":1,"y":38},
{"c":"d","x":-5,"y":13},{"c":"d","x":-8,"y":8},{"c":"d","x":6,"y":18},{"c":"d","x":2,"y":24},{"c":"d","x":-3,"y":20},{"c":"d","x":9,"y":14},{"c":"d","x":-6,"y":5},{"c":"d","x":7,"y":0},{"c":"d","x":8,"y":-8},{"c":"d","x":-4,"y":-14},{"c":"d","x":2,"y":-16},{"c":"d","x":5,"y":-13},{"c":"d","x":-10,"y":15},{"c":"d","x":-1,"y":16},{"c":"d","x":3,"y":16},{"c":"d","x":6,"y":8},{"c":"d","x":-7,"y":-5},{"c":"d","x":10,"y":-3},{"c":"d","x":1,"y":-11},{"c":"d","x":-2,"y":12},{"c":"d","x":4,"y":22},{"c":"d","x":-9,"y":20},{"c":"d","x":11,"y":6},{"c":"d","x":-12,"y":4},{"c":"d","x":0,"y":19},{"c":"d","x":5,"y":33},{"c":"d","x":-6,"y":30},{"c":"d","x":12,"y":-10},{"c":"d","x":9,"y":23},{"c":"d","x":-4,"y":27}
],
"ce":[
{"i":0,"x":4.64,"y":-2.24},{"i":1,"x":4.498,"y":-0.184},{"i":2,"x":4.08,"y":1.904},{"i":3,"x":3.416,"y":3.883},{"i":4,"x":2.55,"y":5.618},{"i":5,"x":1.542,"y":6.991},{"i":6,"x":0.46,"y":7.907},{"i":7,"x":-0.622,"y":8.305},{"i":8,"x":-1.63,"y":8.158},{"i":9,"x":-2.496,"y":7.475},{"i":10,"x":-3.16,"y":6.304},{"i":11,"x":-3.578,"y":4.722},{"i":12,"x":-3.72,"y":2.84},{"i":13,"x":-3.578,"y":0.784},{"i":14,"x":-3.16,"y":-1.304},{"i":15,"x":-2.496,"y":-3.283},{"i":16,"x":-1.63,"y":-5.018},{"i":17,"x":-0.622,"y":-6.391},{"i":18,"x":0.46,"y":-7.307},{"i":19,"x":1.542,"y":-7.705},{"i":20,"x":2.55,"y":-7.558},{"i":21,"x":3.416,"y":-6.875},{"i":22,"x":4.08,"y":-5.704},{"i":23,"x":4.498,"y":-4.122}
],
"fm":[
{"x":-3.8,"y":2.0,"ex":0.8,"ey":0.9},{"x":-3.5,"y":3.2,"ex":1.5,"ey":1.2},{"x":-3.3,"y":3.2,"ex":0.6,"ey":1.8},{"x":-3.4,"y":1.0,"ex":2.0,"ey":0.7},{"x":-3.1,"y":0.2,"ex":1.1,"ey":1.4},{"x":-3.2,"y":2.6,"ex":1.8,"ey":0.9},{"x":-3.6,"y":0.6,"ex":0.7,"ey":2.0},{"x":-3.0,"y":1.8,"ex":1.4,"ey":1.0},
{"x":-2.9,"y":3.5,"ex":1.0,"ey":0.6},{"x":-2.7,"y":2.2,"ex":1.7,"ey":1.6},{"x":-2.5,"y":0.8,"ex":0.5,"ey":1.3},{"x":-2.8,"y":-0.4,"ex":1.2,"ey":2.2},{"x":-2.3,"y":3.0,"ex":0.8,"ey":0.9},{"x":-2.6,"y":1.5,"ex":1.5,"ey":1.2},{"x":-2.2,"y":-0.9,"ex":0.6,"ey":1.8},{"x":-2.4,"y":-1.8,"ex":2.0,"ey":0.7},{"x":-2.1,"y":2.4,"ex":1.1,"ey":1.4},{"x":-2.9,"y":0.9,"ex":1.8,"ey":0.9},{"x":-2.35,"y":1.9,"ex":0.7,"ey":2.0},{"x":-2.7,"y":-1.0,"ex":1.4,"ey":1.0},{"x":-2.05,"y":0.3,"ex":1.0,"ey":0.6},{"x":-2.5,"y":3.9,"ex":1.7,"ey":1.6},{"x":-2.2,"y":-2.4,"ex":0.5,"ey":1.3},
{"x":-1.9,"y":4.0,"ex":1.2,"ey":2.2},{"x":-1.8,"y":3.3,"ex":0.8,"ey":0.9},{"x":-1.6,"y":2.8,"ex":1.5,"ey":1.2},{"x":-1.4,"y":2.0,"ex":0.6,"ey":1.8},{"x":-1.95,"y":1.5,"ex":2.0,"ey":0.7},{"x":-1.2,"y":1.2,"ex":1.1,"ey":1.4},{"x":-1.7,"y":0.5,"ex":1.8,"ey":0.9},{"x":-1.5,"y":-0.2,"ex":0.7,"ey":2.0},{"x":-1.1,"y":-0.8,"ex":1.4,"ey":1.0},{"x":-1.85,"y":-1.3,"ex":1.0,"ey":0.6},{"x":-1.3,"y":-1.9,"ex":1.7,"ey":1.6},{"x":-1.6,"y":-2.6,"ex":0.5,"ey":1.3},{"x":-1.05,"y":-3.0,"ex":1.2,"ey":2.2},{"x":-1.45,"y":0.9,"ex":0.8,"ey":0.9},{"x":-1.25,"y":2.6,"ex":1.5,"ey":1.2},{"x":-1.75,"y":-0.6,"ex":0.6,"ey":1.8},{"x":-1.15,"y":0.2,"ex":2.0,"ey":0.7},{"x":-1.55,"y":1.6,"ex":1.1,"ey":1.4},{"x":-1.35,"y":3.6,"ex":1.8,"ey":0.9},{"x":-1.0,"y":1.8,"ex":0.7,"ey":2.0},{"x":-1.9,"y":-2.0,"ex":1.4,"ey":1.0},{"x":-1.2,"y":-3.5,"ex":1.0,"ey":0.6},{"x":-1.65,"y":3.9,"ex":1.7,"ey":1.6},{"x":-1.05,"y":-1.4,"ex":0.5,"ey":1.3},
{"x":-0.9,"y":3.0,"ex":1.2,"ey":2.2},{"x":-0.8,"y":2.3,"ex":0.8,"ey":0.9},{"x":-0.6,"y":1.7,"ex":1.5,"ey":1.2},{"x":-0.4,"y":1.1,"ex":0.6,"ey":1.8},{"x":-0.95,"y":0.6,"ex":2.0,"ey":0.7},{"x":-0.2,"y":0.3,"ex":1.1,"ey":1.4},{"x":-0.7,"y":-0.1,"ex":1.8,"ey":0.9},{"x":-0.5,"y":-0.6,"ex":0.7,"ey":2.0},{"x":-0.1,"y":-1.1,"ex":1.4,"ey":1.0},{"x":-0.85,"y":-1.6,"ex":1.0,"ey":0.6},{"x":-0.3,"y":-2.1,"ex":1.7,"ey":1.6},{"x":-0.6,"y":-2.7,"ex":0.5,"ey":1.3},{"x":-0.15,"y":-3.2,"ex":1.2,"ey":2.2},{"x":-0.75,"y":1.3,"ex":0.8,"ey":0.9},{"x":-0.25,"y":2.1,"ex":1.5,"ey":1.2},{"x":-0.55,"y":0.2,"ex":0.6,"ey":1.8},{"x":-0.05,"y":0.8,"ex":2.0,"ey":0.7},{"x":-0.45,"y":-1.3,"ex":1.1,"ey":1.4},{"x":-0.35,"y":3.6,"ex":1.8,"ey":0.9},{"x":-0.65,"y":-3.8,"ex":0.7,"ey":2.0},{"x":-0.95,"y":2.0,"ex":1.4,"ey":1.0},{"x":-0.15,"y":-0.4,"ex":1.0,"ey":0.6},{"x":-0.8,"y":-0.5,"ex":1.7,"ey":1.6},{"x":-0.3,"y":1.5,"ex":0.5,"ey":1.3},{"x":-0.5,"y":2.8,"ex":1.2,"ey":2.2},{"x":-0.05,"y":-2.5,"ex":0.8,"ey":0.9},{"x":-0.9,"y":-2.4,"ex":1.5,"ey":1.2},{"x":-0.4,"y":-4.2,"ex":0.6,"ey":1.8},{"x":-0.2,"y":4.0,"ex":2.0,"ey":0.7},{"x":-0.7,"y":0.8,"ex":1.1,"ey":1.4},
{"x":0.1,"y":2.7,"ex":1.8,"ey":0.9},{"x":0.2,"y":1.9,"ex":0.7,"ey":2.0},{"x":0.4,"y":1.2,"ex":1.4,"ey":1.0},{"x":0.6,"y":0.6,"ex":1.0,"ey":0.6},{"x":0.05,"y":0.1,"ex":1.7,"ey":1.6},{"x":0.8,"y":-0.1,"ex":0.5,"ey":1.3},{"x":0.3,"y":-0.5,"ex":1.2,"ey":2.2},{"x":0.5,"y":-1.0,"ex":0.8,"ey":0.9},{"x":0.9,"y":-1.5,"ex":1.5,"ey":1.2},{"x":0.15,"y":-1.8,"ex":0.6,"ey":1.8},{"x":0.7,"y":-2.3,"ex":2.0,"ey":0.7},{"x":0.4,"y":-2.9,"ex":1.1,"ey":1.4},{"x":0.85,"y":-3.4,"ex":1.8,"ey":0.9},{"x":0.25,"y":0.9,"ex":0.7,"ey":2.0},{"x":0.75,"y":1.5,"ex":1.4,"ey":1.0},{"x":0.45,"y":0.3,"ex":1.0,"ey":0.6},{"x":0.95,"y":-0.6,"ex":1.7,"ey":1.6},{"x":0.55,"y":-1.9,"ex":0.5,"ey":1.3},{"x":0.65,"y":3.0,"ex":1.2,"ey":2.2},{"x":0.35,"y":-3.9,"ex":0.8,"ey":0.9},{"x":0.05,"y":-1.3,"ex":1.5,"ey":1.2},{"x":0.85,"y":0.2,"ex":0.6,"ey":1.8},{"x":0.2,"y":-0.2,"ex":2.0,"ey":0.7},{"x":0.6,"y":-0.4,"ex":1.1,"ey":1.4},{"x":0.45,"y":2.2,"ex":1.8,"ey":0.9},{"x":0.95,"y":-2.7,"ex":0.7,"ey":2.0},{"x":0.1,"y":-3.5,"ex":1.4,"ey":1.0},{"x":0.7,"y":-4.3,"ex":1.0,"ey":0.6},{"x":0.3,"y":-1.2,"ex":1.7,"ey":1.6},{"x":0.8,"y":1.0,"ex":0.5,"ey":1.3},{"x":0.5,"y":-2.5,"ex":1.2,"ey":2.2},{"x":0.15,"y":0.5,"ex":0.8,"ey":0.9},
{"x":1.1,"y":2.0,"ex":1.5,"ey":1.2},{"x":1.2,"y":1.3,"ex":0.6,"ey":1.8},{"x":1.4,"y":0.7,"ex":2.0,"ey":0.7},{"x":1.6,"y":0.1,"ex":1.1,"ey":1.4},{"x":1.05,"y":-0.3,"ex":1.8,"ey":0.9},{"x":1.8,"y":-0.7,"ex":0.7,"ey":2.0},{"x":1.3,"y":-1.1,"ex":1.4,"ey":1.0},{"x":1.5,"y":-1.6,"ex":1.0,"ey":0.6},{"x":1.9,"y":-2.1,"ex":1.7,"ey":1.6},{"x":1.15,"y":-2.5,"ex":0.5,"ey":1.3},{"x":1.7,"y":-3.0,"ex":1.2,"ey":2.2},{"x":1.4,"y":-3.6,"ex":0.8,"ey":0.9},{"x":1.85,"y":-4.1,"ex":1.5,"ey":1.2},{"x":1.25,"y":-4.5,"ex":0.6,"ey":1.8},{"x":1.65,"y":-5.0,"ex":2.0,"ey":0.7},{"x":1.45,"y":-0.4,"ex":1.1,"ey":1.4},{"x":1.75,"y":-1.3,"ex":1.8,"ey":0.9},{"x":1.95,"y":0.5,"ex":0.7,"ey":2.0},{"x":1.35,"y":-2.0,"ex":1.4,"ey":1.0},{"x":1.55,"y":-2.7,"ex":1.0,"ey":0.6},{"x":1.1,"y":0.6,"ex":1.7,"ey":1.6},{"x":1.6,"y":1.6,"ex":0.5,"ey":1.3},{"x":1.9,"y":-3.5,"ex":1.2,"ey":2.2},{"x":1.2,"y":-3.2,"ex":0.8,"ey":0.9},{"x":1.7,"y":-0.1,"ex":1.5,"ey":1.2},{"x":1.0,"y":-1.7,"ex":0.6,"ey":1.8},{"x":1.5,"y":-4.4,"ex":2.0,"ey":0.7},{"x":1.8,"y":-5.5,"ex":1.1,"ey":1.4},{"x":1.3,"y":2.4,"ex":1.8,"ey":0.9},
{"x":2.1,"y":1.2,"ex":0.7,"ey":2.0},{"x":2.3,"y":0.4,"ex":1.4,"ey":1.0},{"x":2.5,"y":-0.2,"ex":1.0,"ey":0.6},{"x":2.05,"y":-0.8,"ex":1.7,"ey":1.6},{"x":2.7,"y":-1.0,"ex":0.5,"ey":1.3},{"x":2.2,"y":-1.6,"ex":1.2,"ey":2.2},{"x":2.9,"y":-1.9,"ex":0.8,"ey":0.9},{"x":2.4,"y":-2.4,"ex":1.5,"ey":1.2},{"x":2.6,"y":-3.0,"ex":0.6,"ey":1.8},{"x":2.15,"y":-3.4,"ex":2.0,"ey":0.7},{"x":2.8,"y":-3.7,"ex":1.1,"ey":1.4},{"x":2.35,"y":-4.2,"ex":1.8,"ey":0.9},{"x":2.75,"y":-4.8,"ex":0.7,"ey":2.0},{"x":2.5,"y":-5.3,"ex":1.4,"ey":1.0},{"x":2.2,"y":-5.6,"ex":1.0,"ey":0.6},{"x":2.95,"y":-5.2,"ex":1.7,"ey":1.6},{"x":2.45,"y":-1.2,"ex":0.5,"ey":1.3},{"x":2.85,"y":-2.8,"ex":1.2,"ey":2.2},{"x":2.1,"y":-2.6,"ex":0.8,"ey":0.9},{"x":2.65,"y":0.8,"ex":1.5,"ey":1.2},{"x":2.3,"y":2.3,"ex":0.6,"ey":1.8},{"x":2.9,"y":-0.4,"ex":2.0,"ey":0.7},{"x":2.55,"y":-4.0,"ex":1.1,"ey":1.4},{"x":2.0,"y":-4.6,"ex":1.8,"ey":0.9},
{"x":3.1,"y":-0.3,"ex":0.7,"ey":2.0},{"x":3.3,"y":-1.2,"ex":1.4,"ey":1.0},{"x":3.5,"y":-2.0,"ex":1.0,"ey":0.6},{"x":3.2,"y":-2.6,"ex":1.7,"ey":1.6},{"x":3.7,"y":-3.1,"ex":0.5,"ey":1.3},{"x":3.4,"y":-3.8,"ex":1.2,"ey":2.2},{"x":3.9,"y":-4.2,"ex":0.8,"ey":0.9},{"x":3.15,"y":-4.5,"ex":1.5,"ey":1.2},{"x":3.6,"y":-5.0,"ex":0.6,"ey":1.8},{"x":3.3,"y":-5.5,"ex":2.0,"ey":0.7},{"x":4.0,"y":-5.3,"ex":1.1,"ey":1.4},{"x":3.8,"y":-2.4,"ex":1.8,"ey":0.9},{"x":3.05,"y":-3.3,"ex":0.7,"ey":2.0},{"x":3.45,"y":-0.7,"ex":1.4,"ey":1.0},{"x":4.2,"y":-3.6,"ex":1.0,"ey":0.6},{"x":3.6,"y":-1.5,"ex":1.7,"ey":1.6},{"x":4.1,"y":-4.6,"ex":0.5,"ey":1.3},{"x":3.35,"y":0.4,"ex":1.2,"ey":2.2},{"x":3.75,"y":-4.7,"ex":0.8,"ey":0.9},{"x":3.2,"y":-1.8,"ex":1.5,"ey":1.2},
{"x":-0.6,"y":1.0,"ex":1.0,"ey":1.1},{"x":-0.3,"y":0.6,"ex":1.3,"ey":0.8},{"x":0.0,"y":0.3,"ex":0.9,"ey":1.5},{"x":0.3,"y":-0.8,"ex":1.6,"ey":1.0},{"x":0.6,"y":-1.3,"ex":1.1,"ey":1.2},{"x":0.9,"y":-1.0,"ex":0.8,"ey":1.7},{"x":1.2,"y":-1.9,"ex":1.4,"ey":0.9},{"x":1.5,"y":-2.3,"ex":1.0,"ey":1.3},{"x":-1.0,"y":1.4,"ex":1.7,"ey":1.0},{"x":-0.8,"y":0.3,"ex":0.9,"ey":1.6},
{"x":-0.4,"y":-0.2,"ex":1.2,"ey":1.1},{"x":0.2,"y":0.8,"ex":1.5,"ey":0.8},{"x":0.5,"y":0.0,"ex":0.8,"ey":1.4},{"x":0.8,"y":-2.0,"ex":1.3,"ey":1.0},{"x":1.1,"y":-0.7,"ex":1.0,"ey":1.5},{"x":1.4,"y":-1.3,"ex":1.6,"ey":1.2},{"x":1.7,"y":-2.5,"ex":0.9,"ey":0.9},{"x":2.0,"y":-1.4,"ex":1.2,"ey":1.6},{"x":-1.3,"y":0.4,"ex":1.4,"ey":1.0},{"x":-0.9,"y":1.7,"ex":1.0,"ey":1.3},
{"x":-0.2,"y":-1.6,"ex":1.7,"ey":1.1},{"x":0.1,"y":-0.9,"ex":0.8,"ey":1.4},{"x":0.4,"y":-1.6,"ex":1.3,"ey":0.9},{"x":0.7,"y":0.3,"ex":1.1,"ey":1.6},{"x":1.0,"y":-2.4,"ex":1.5,"ey":1.0},{"x":1.3,"y":-0.1,"ex":0.9,"ey":1.2},{"x":1.6,"y":-1.9,"ex":1.2,"ey":1.5},{"x":1.9,"y":-2.9,"ex":1.6,"ey":1.1},{"x":2.2,"y":-2.0,"ex":1.0,"ey":0.8},{"x":-1.6,"y":2.3,"ex":1.4,"ey":1.3},
{"x":-1.1,"y":2.3,"ex":1.0,"ey":1.1},{"x":-0.7,"y":2.6,"ex":1.3,"ey":1.5},{"x":-0.5,"y":1.3,"ex":0.8,"ey":1.0},{"x":0.0,"y":1.6,"ex":1.6,"ey":1.2},{"x":0.3,"y":1.5,"ex":1.1,"ey":0.9},{"x":0.55,"y":-3.2,"ex":1.4,"ey":1.4},{"x":1.0,"y":-3.0,"ex":0.9,"ey":1.1},{"x":1.35,"y":-2.7,"ex":1.2,"ey":1.6},{"x":2.4,"y":-3.2,"ex":1.5,"ey":1.0},{"x":-0.25,"y":-0.9,"ex":1.0,"ey":1.3}
],
"fx":[
{"x":-1.6,"y":1.0},{"x":-1.6,"y":2.2},{"x":-1.55,"y":1.6},{"x":-1.4,"y":0.6},{"x":-1.4,"y":1.4},{"x":-1.45,"y":2.4},{"x":-1.35,"y":3.0},{"x":-1.2,"y":0.0},{"x":-1.2,"y":0.8},{"x":-1.25,"y":1.8},{"x":-1.15,"y":2.5},{"x":-1.2,"y":3.2},
{"x":-1.0,"y":-0.4},{"x":-1.0,"y":0.4},{"x":-1.05,"y":1.0},{"x":-0.95,"y":1.6},{"x":-1.0,"y":2.4},{"x":-1.0,"y":3.3},{"x":-0.8,"y":-0.9},{"x":-0.8,"y":0.0},{"x":-0.85,"y":0.6},{"x":-0.75,"y":1.0},{"x":-0.8,"y":1.8},{"x":-0.8,"y":2.6},{"x":-0.75,"y":-1.6},
{"x":-0.6,"y":-1.2},{"x":-0.6,"y":-0.3},{"x":-0.65,"y":0.5},{"x":-0.55,"y":0.9},{"x":-0.6,"y":1.4},{"x":-0.6,"y":2.1},{"x":-0.6,"y":3.2},{"x":-0.6,"y":-2.0},
{"x":-0.4,"y":-1.6},{"x":-0.4,"y":-0.8},{"x":-0.45,"y":0.0},{"x":-0.35,"y":0.5},{"x":-0.4,"y":0.9},{"x":-0.4,"y":1.6},{"x":-0.4,"y":2.4},{"x":-0.4,"y":-2.6},
{"x":-0.2,"y":-1.8},{"x":-0.2,"y":-1.0},{"x":-0.25,"y":-0.3},{"x":-0.15,"y":0.2},{"x":-0.2,"y":0.7},{"x":-0.2,"y":1.2},{"x":-0.2,"y":1.9},{"x":-0.2,"y":2.7},{"x":-0.2,"y":-2.8},
{"x":0.0,"y":-2.0},{"x":0.0,"y":-1.5},{"x":0.0,"y":-0.7},{"x":-0.05,"y":0.0},{"x":0.05,"y":0.5},{"x":0.0,"y":1.1},{"x":0.0,"y":1.6},{"x":0.0,"y":2.3},{"x":0.0,"y":-3.0},
{"x":0.2,"y":-2.4},{"x":0.2,"y":-1.6},{"x":0.2,"y":-1.0},{"x":0.25,"y":-0.5},{"x":0.15,"y":0.1},{"x":0.2,"y":0.6},{"x":0.2,"y":1.3},{"x":0.2,"y":2.1},{"x":0.2,"y":-3.2},
{"x":0.4,"y":-2.6},{"x":0.4,"y":-2.0},{"x":0.4,"y":-1.4},{"x":0.45,"y":-0.8},{"x":0.35,"y":-0.1},{"x":0.4,"y":0.4},{"x":0.4,"y":0.9},{"x":0.4,"y":1.6},{"x":0.4,"y":-3.4},
{"x":0.6,"y":-3.0},{"x":0.6,"y":-2.0},{"x":0.6,"y":-1.6},{"x":0.65,"y":-0.9},{"x":0.55,"y":-0.2},{"x":0.6,"y":0.2},{"x":0.6,"y":1.0},{"x":0.6,"y":1.8},{"x":0.6,"y":-3.6},
{"x":0.8,"y":-3.2},{"x":0.8,"y":-2.6},{"x":0.8,"y":-1.8},{"x":0.85,"y":-1.2},{"x":0.75,"y":-0.5},{"x":0.8,"y":0.0},{"x":0.8,"y":0.6},{"x":0.8,"y":1.4},{"x":0.8,"y":-3.9},
{"x":1.0,"y":-3.5},{"x":1.0,"y":-2.8},{"x":1.0,"y":-2.1},{"x":1.05,"y":-1.3},{"x":0.95,"y":-0.8},{"x":1.0,"y":-0.2},{"x":1.0,"y":0.4},{"x":1.0,"y":1.2},
{"x":1.2,"y":-3.8},{"x":1.2,"y":-2.9},{"x":1.2,"y":-2.3},{"x":1.25,"y":-1.5},{"x":1.15,"y":-0.9},{"x":1.2,"y":-0.4},{"x":1.2,"y":0.2},{"x":1.2,"y":0.9},
{"x":1.4,"y":-4.0},{"x":1.4,"y":-3.0},{"x":1.4,"y":-2.5},{"x":1.45,"y":-1.9},{"x":1.35,"y":-1.0},{"x":1.4,"y":-0.6},{"x":1.4,"y":0.0},
{"x":1.6,"y":-3.8},{"x":1.6,"y":-3.2},{"x":1.6,"y":-2.4},{"x":1.65,"y":-1.5},{"x":1.55,"y":-0.9},{"x":1.6,"y":-0.4},{"x":1.6,"y":0.4},
{"x":1.8,"y":-3.6},{"x":1.8,"y":-2.8},{"x":1.8,"y":-2.3},{"x":1.85,"y":-1.6},{"x":1.75,"y":-1.1},{"x":1.8,"y":-0.3},
{"x":2.0,"y":-3.4},{"x":2.0,"y":-2.7},{"x":2.0,"y":-1.9},{"x":2.05,"y":-1.2},{"x":1.95,"y":-0.5},{"x":2.2,"y":-3.2},{"x":2.2,"y":-2.2},{"x":2.25,"y":-1.4},{"x":2.15,"y":-0.6},{"x":2.2,"y":-3.9},
{"x":2.4,"y":-2.8},{"x":2.4,"y":-1.8},{"x":2.45,"y":-0.9},{"x":2.4,"y":-3.6},
{"x":-2.6,"y":3.4},{"x":-2.0,"y":3.6},{"x":-3.0,"y":2.9},{"x":-2.3,"y":-0.3},{"x":-1.7,"y":-1.0},{"x":2.8,"y":-4.4},{"x":3.0,"y":-2.4},{"x":3.4,"y":-2.9},{"x":2.6,"y":-5.0},{"x":3.6,"y":-4.2},{"x":-2.4,"y":0.2},{"x":-1.3,"y":-2.5},{"x":3.1,"y":-1.1},{"x":2.7,"y":-2.0}
],
"fo":[
{"c":"d","x":-4.83,"y":3.59},{"c":"d","x":-4.48,"y":3.91},{"c":"d","x":-4.3,"y":2.0},{"c":"d","x":-3.87,"y":2.0},{"c":"d","x":-4.68,"y":-3.78},{"c":"d","x":-3.49,"y":1.49},{"c":"d","x":-3.23,"y":1.34},{"c":"d","x":-3.31,"y":1.2},{"c":"d","x":-3.0,"y":0.98},{"c":"d","x":-3.1,"y":0.07},{"c":"d","x":-3.23,"y":0.41},{"c":"d","x":-2.92,"y":1.43},{"c":"d","x":-3.0,"y":2.33},{"c":"d","x":-3.15,"y":3.99},{"c":"d","x":-2.77,"y":4.4},{"c":"d","x":-2.72,"y":2.83},{"c":"d","x":-2.16,"y":4.25},{"c":"d","x":-1.81,"y":4.7},{"c":"d","x":-3.77,"y":4.84},{"c":"d","x":-2.09,"y":4.84},{"c":"d","x":-1.02,"y":4.99},{"c":"d","x":-0.06,"y":4.95},{"c":"d","x":-1.71,"y":4.8},{"c":"d","x":1.83,"y":4.37},{"c":"d","x":2.85,"y":2.46},{"c":"d","x":2.78,"y":2.88},{"c":"d","x":2.55,"y":2.34},{"c":"d","x":3.67,"y":3.3},{"c":"d","x":2.48,"y":1.76},{"c":"d","x":2.48,"y":1.25},{"c":"d","x":3.96,"y":0.95},{"c":"d","x":4.39,"y":0.88},{"c":"d","x":4.42,"y":0.39},{"c":"d","x":4.47,"y":0.15},{"c":"d","x":4.63,"y":-0.47},{"c":"d","x":5.3,"y":-0.98},{"c":"d","x":4.11,"y":-1.98},{"c":"d","x":4.0,"y":-2.67},{"c":"d","x":3.7,"y":-2.52},{"c":"d","x":3.62,"y":-1.76},{"c":"d","x":3.31,"y":-1.4},{"c":"d","x":3.47,"y":-2.34},{"c":"d","x":4.39,"y":-3.22},{"c":"d","x":4.77,"y":-3.27},{"c":"d","x":4.0,"y":-3.44},{"c":"d","x":4.11,"y":-3.81},{"c":"d","x":4.45,"y":-4.18},{"c":"d","x":4.53,"y":-4.33},{"c":"d","x":3.77,"y":-4.62},{"c":"d","x":3.9,"y":-4.65},{"c":"d","x":3.21,"y":-5.32},{"c":"d","x":3.34,"y":-5.25},{"c":"d","x":4.16,"y":-5.63},{"c":"d","x":4.36,"y":-5.6},{"c":"d","x":1.97,"y":-5.69},{"c":"d","x":1.52,"y":-5.06},{"c":"d","x":1.19,"y":-4.47},{"c":"d","x":0.73,"y":-5.57},{"c":"d","x":-0.33,"y":-3.66},{"c":"d","x":-1.02,"y":-5.1},{"c":"d","x":-1.17,"y":-5.57},{"c":"d","x":-1.83,"y":-4.64},{"c":"d","x":-2.04,"y":-3.66},{"c":"d","x":-2.01,"y":-2.46},{"c":"d","x":-1.48,"y":-2.13},{"c":"d","x":-1.79,"y":-1.17},{"c":"d","x":-2.01,"y":-0.4},{"c":"d","x":-2.24,"y":0.18},{"c":"d","x":-2.55,"y":0.51},{"c":"d","x":2.7,"y":-3.22},{"c":"d","x":3.16,"y":-3.69},{"c":"d","x":2.24,"y":-2.81},
{"c":"t","x":5.37,"y":3.1},{"c":"t","x":3.04,"y":3.08},{"c":"t","x":-4.27,"y":1.28},{"c":"t","x":-2.33,"y":2.68},{"c":"t","x":-2.07,"y":0.51},{"c":"t","x":-4.3,"y":-3.22},{"c":"t","x":-3.56,"y":-3.03},{"c":"t","x":0.8,"y":3.52},{"c":"t","x":0.65,"y":4.55},{"c":"t","x":0.84,"y":4.44},{"c":"t","x":-2.92,"y":4.95},{"c":"t","x":-2.77,"y":4.95},{"c":"t","x":-0.72,"y":3.2},{"c":"t","x":-0.49,"y":2.2},{"c":"t","x":1.34,"y":1.95},{"c":"t","x":-0.34,"y":1.27},{"c":"t","x":-0.09,"y":0.8},{"c":"t","x":-0.6,"y":0.26},{"c":"t","x":-0.34,"y":0.26},{"c":"t","x":-0.39,"y":-0.12},{"c":"t","x":-0.12,"y":-0.29},{"c":"t","x":0.18,"y":-0.1},{"c":"t","x":0.34,"y":0.0},{"c":"t","x":0.57,"y":0.36},{"c":"t","x":0.7,"y":0.66},{"c":"t","x":0.98,"y":-0.25},{"c":"t","x":1.34,"y":-0.25},{"c":"t","x":-0.09,"y":-0.63},{"c":"t","x":-0.49,"y":-0.98},{"c":"t","x":0.07,"y":-1.47},{"c":"t","x":0.47,"y":-1.4},{"c":"t","x":0.73,"y":-0.69},{"c":"t","x":0.88,"y":-0.95},{"c":"t","x":1.13,"y":-0.95},{"c":"t","x":1.08,"y":-0.76},{"c":"t","x":0.79,"y":-1.69},{"c":"t","x":0.68,"y":-2.57},{"c":"t","x":0.49,"y":-3.3},{"c":"t","x":0.18,"y":-3.27},{"c":"t","x":1.22,"y":-5.0},{"c":"t","x":0.92,"y":-4.4},{"c":"t","x":-0.04,"y":-4.32},{"c":"t","x":0.68,"y":-3.74},{"c":"t","x":2.6,"y":-3.18},{"c":"t","x":2.4,"y":-4.32},{"c":"t","x":2.1,"y":-4.8},{"c":"t","x":2.46,"y":-4.94},{"c":"t","x":4.16,"y":-2.46},{"c":"t","x":4.61,"y":-0.15},{"c":"t","x":-1.81,"y":-5.23},{"c":"t","x":-1.14,"y":-5.5},{"c":"t","x":4.36,"y":-5.66},{"c":"t","x":0.1,"y":0.54},{"c":"t","x":2.9,"y":-1.5},
{"c":"t","x":29.6,"y":31.9},{"c":"t","x":61,"y":30},{"c":"t","x":31,"y":26.5},{"c":"t","x":-12.7,"y":13.4},{"c":"t","x":-6.2,"y":14},{"c":"t","x":9.2,"y":15.3},{"c":"t","x":16.6,"y":12.5},{"c":"t","x":21,"y":12.5},{"c":"t","x":21.4,"y":8.9},{"c":"t","x":28.7,"y":9.2},{"c":"t","x":42.1,"y":7.6},{"c":"t","x":31.1,"y":3.9},{"c":"t","x":32.8,"y":3.0},{"c":"t","x":34,"y":2.0},{"c":"t","x":-13.8,"y":8.4},{"c":"t","x":11.2,"y":9.2},{"c":"t","x":10.5,"y":6.7},{"c":"t","x":13.6,"y":4.5},{"c":"t","x":19.5,"y":2.6},{"c":"t","x":16.6,"y":-5.2},{"c":"t","x":22.7,"y":-9.7},{"c":"t","x":15.9,"y":-13.2},{"c":"t","x":13.6,"y":-13.3},{"c":"t","x":9.8,"y":-14},{"c":"t","x":3.2,"y":-12.9},{"c":"t","x":-9.2,"y":-14},{"c":"t","x":-15.8,"y":-17.1},{"c":"t","x":-6.2,"y":-17.7},{"c":"t","x":-12.3,"y":-20},{"c":"t","x":-26.8,"y":-20.4},{"c":"t","x":4.7,"y":-18.5},{"c":"t","x":2.3,"y":-24.7},{"c":"t","x":12.5,"y":-23.4},{"c":"t","x":15.9,"y":-27.2},{"c":"t","x":21.2,"y":-29.1},{"c":"t","x":9.5,"y":-36.8},{"c":"t","x":-18.2,"y":-38.1},{"c":"t","x":20.3,"y":-40.1},{"c":"t","x":10.2,"y":-43.8},{"c":"t","x":90.7,"y":-39.1},{"c":"t","x":121.2,"y":-82.7},{"c":"t","x":-3.4,"y":-49},{"c":"t","x":-8.3,"y":-4.2},{"c":"t","x":6.9,"y":-5.1},{"c":"t","x":1.2,"y":0.6},
{"c":"d","x":-11.5,"y":-78.1},{"c":"d","x":-3.6,"y":-49.5},{"c":"d","x":18.5,"y":10.1},{"c":"d","x":21.4,"y":1.5},{"c":"d","x":15.1,"y":6.1},{"c":"d","x":12,"y":3.6},{"c":"d","x":10.9,"y":-20.1},{"c":"d","x":14,"y":-18.2},{"c":"d","x":18.9,"y":-18.7},{"c":"d","x":20.1,"y":-20.1},{"c":"d","x":-0.5,"y":-19.3},{"c":"d","x":17.9,"y":-10.3},{"c":"d","x":22,"y":-4.6},{"c":"d","x":23.3,"y":-4.6},{"c":"d","x":13.4,"y":-7.1},{"c":"d","x":3.9,"y":-14},{"c":"d","x":5.4,"y":-14},{"c":"d","x":-2.3,"y":-14},{"c":"d","x":-8.9,"y":11.8},{"c":"d","x":-10.6,"y":10.1},{"c":"d","x":-4.8,"y":8.5},{"c":"d","x":4.5,"y":9.2},{"c":"d","x":9.4,"y":-1.3},{"c":"d","x":15.1,"y":0.05},{"c":"d","x":19.3,"y":-5.9},{"c":"d","x":6.9,"y":-8.7},{"c":"d","x":11.8,"y":-4.6},
{"c":"d","x":-6,"y":6},{"c":"d","x":6,"y":8},{"c":"d","x":7,"y":-7},{"c":"d","x":-7,"y":-6},{"c":"d","x":8,"y":2},{"c":"d","x":-5,"y":-9},{"c":"d","x":5,"y":-10},{"c":"d","x":9,"y":-12},{"c":"d","x":2,"y":-8},{"c":"d","x":-3,"y":8},{"c":"d","x":3,"y":7},{"c":"d","x":6,"y":-3},{"c":"d","x":-6,"y":-2},{"c":"d","x":10,"y":5},{"c":"d","x":12,"y":-6},{"c":"d","x":1,"y":-12},{"c":"d","x":-2,"y":-7},{"c":"d","x":7,"y":11},{"c":"d","x":0,"y":9},{"c":"d","x":4,"y":-6},
{"c":"t","x":-6,"y":2},{"c":"t","x":7,"y":4},{"c":"t","x":6,"y":-9},{"c":"t","x":-4,"y":-8},{"c":"t","x":3,"y":10},{"c":"t","x":8,"y":-4},{"c":"t","x":-7,"y":9},{"c":"t","x":11,"y":-8},{"c":"t","x":1,"y":7},{"c":"t","x":5,"y":-7},{"c":"t","x":9,"y":1},{"c":"t","x":-5,"y":4},{"c":"t","x":2,"y":-10},{"c":"t","x":-3,"y":-12},{"c":"t","x":13,"y":2}
],
"fe":[
{"i":0,"x":2.615,"y":-1.893},{"i":1,"x":2.539,"y":-1.172},{"i":2,"x":2.317,"y":-0.393},{"i":3,"x":1.963,"y":0.391},{"i":4,"x":1.503,"y":1.126},{"i":5,"x":0.966,"y":1.763},{"i":6,"x":0.39,"y":2.258},{"i":7,"x":-0.186,"y":2.577},{"i":8,"x":-0.723,"y":2.7},{"i":9,"x":-1.183,"y":2.615},{"i":10,"x":-1.537,"y":2.331},{"i":11,"x":-1.759,"y":1.866},{"i":12,"x":-1.835,"y":1.253},{"i":13,"x":-1.759,"y":0.532},{"i":14,"x":-1.537,"y":-0.247},{"i":15,"x":-1.183,"y":-1.031},{"i":16,"x":-0.723,"y":-1.766},{"i":17,"x":-0.186,"y":-2.403},{"i":18,"x":0.39,"y":-2.898},{"i":19,"x":0.966,"y":-3.217},{"i":20,"x":1.503,"y":-3.34},{"i":21,"x":1.963,"y":-3.255},{"i":22,"x":2.317,"y":-2.971},{"i":23,"x":2.539,"y":-2.506}
]
},
"vconcat":[
{"title":{"text":"Sculptor","offset":8},"bounds":"flush","spacing":73,"hconcat":[
{"width":235,"height":246,
"encoding":{"x":{"field":"x","type":"quantitative","scale":{"domain":[-23.1,72.2],"nice":false,"zero":false},"axis":{"values":[0,25,50],"title":"Proper motion RA [mas/yr]"}},"y":{"field":"y","type":"quantitative","scale":{"domain":[-42.5,14.25],"nice":false,"zero":false},"axis":{"values":[-40,-30,-20,-10,0,10],"title":"Proper motion Dec [mas/yr]"}}},
"layer":[
{"data":{"name":"sm"},"mark":{"type":"point","filled":true,"color":"black","size":12,"opacity":1,"clip":true}},
{"data":{"name":"sx"},"mark":{"type":"point","filled":true,"color":"black","size":12,"opacity":1,"clip":true}},
{"data":{"name":"so"},"transform":[{"filter":"datum.c=='d'"}],"mark":{"type":"point","filled":true,"color":"red","size":11,"opacity":1,"clip":true}},
{"data":{"name":"so"},"transform":[{"filter":"datum.c=='t'"}],"mark":{"type":"point","shape":"triangle-up","filled":false,"color":"red","size":16,"strokeWidth":0.7,"opacity":0.85,"clip":true}},
{"data":{"name":"se"},"mark":{"type":"line","interpolate":"cardinal-closed","color":"red","strokeWidth":1.5,"clip":true},"encoding":{"order":{"field":"i"}}}
]},
{"width":235,"height":246,
"encoding":{"x":{"field":"x","type":"quantitative","scale":{"domain":[-2.59,2.88],"nice":false,"zero":false},"axis":{"values":[-2,0,2],"title":"Proper motion RA [mas/yr]"}},"y":{"field":"y","type":"quantitative","scale":{"domain":[-2.9,2.56],"nice":false,"zero":false},"axis":{"values":[-2,-1,0,1,2],"title":"Proper motion Dec [mas/yr]"}}},
"layer":[
{"data":{"name":"sm"},"mark":{"type":"errorbar","ticks":false,"color":"#aaaaaa","opacity":0.35,"thickness":0.8,"clip":true},"encoding":{"xError":{"field":"ex"}}},
{"data":{"name":"sm"},"mark":{"type":"errorbar","ticks":false,"color":"#aaaaaa","opacity":0.35,"thickness":0.8,"clip":true},"encoding":{"yError":{"field":"ey"}}},
{"data":{"name":"sm"},"mark":{"type":"point","filled":true,"color":"black","size":25,"opacity":1,"clip":true}},
{"data":{"name":"sx"},"mark":{"type":"point","filled":true,"color":"black","size":25,"opacity":1,"clip":true}},
{"data":{"name":"so"},"transform":[{"filter":"datum.c=='d'"}],"mark":{"type":"point","filled":true,"color":"red","size":13,"opacity":1,"clip":true}},
{"data":{"name":"so"},"transform":[{"filter":"datum.c=='t'"}],"mark":{"type":"point","shape":"triangle-up","filled":false,"color":"red","size":18,"strokeWidth":0.8,"opacity":0.85,"clip":true}},
{"data":{"name":"se"},"mark":{"type":"line","interpolate":"cardinal-closed","color":"red","strokeWidth":2,"clip":true},"encoding":{"order":{"field":"i"}}}
]}
]},
{"title":{"text":"Carina","offset":8},"bounds":"flush","spacing":81,"hconcat":[
{"width":231,"height":246,
"encoding":{"x":{"field":"x","type":"quantitative","scale":{"domain":[-48.3,131.2],"nice":false,"zero":false},"axis":{"values":[0,50,100],"title":"Proper motion RA [mas/yr]"}},"y":{"field":"y","type":"quantitative","scale":{"domain":[-98.4,72.1],"nice":false,"zero":false},"axis":{"values":[-50,0,50],"title":"Proper motion Dec [mas/yr]"}}},
"layer":[
{"data":{"name":"cm"},"mark":{"type":"point","filled":true,"color":"black","size":12,"opacity":1,"clip":true}},
{"data":{"name":"cx"},"mark":{"type":"point","filled":true,"color":"black","size":12,"opacity":1,"clip":true}},
{"data":{"name":"co"},"transform":[{"filter":"datum.c=='d'"}],"mark":{"type":"point","filled":true,"color":"red","size":11,"opacity":1,"clip":true}},
{"data":{"name":"co"},"transform":[{"filter":"datum.c=='t'"}],"mark":{"type":"point","shape":"triangle-up","filled":false,"color":"red","size":16,"strokeWidth":0.7,"opacity":0.85,"clip":true}},
{"data":{"name":"ce"},"mark":{"type":"line","interpolate":"cardinal-closed","color":"red","strokeWidth":1.5,"clip":true},"encoding":{"order":{"field":"i"}}}
]},
{"width":233,"height":246,
"encoding":{"x":{"field":"x","type":"quantitative","scale":{"domain":[-5.3,6.27],"nice":false,"zero":false},"axis":{"values":[-5,0,5],"title":"Proper motion RA [mas/yr]"}},"y":{"field":"y","type":"quantitative","scale":{"domain":[-10.17,10.97],"nice":false,"zero":false},"axis":{"values":[-10,-5,0,5,10],"title":"Proper motion Dec [mas/yr]"}}},
"layer":[
{"data":{"name":"cm"},"mark":{"type":"errorbar","ticks":false,"color":"#aaaaaa","opacity":0.3,"thickness":0.8,"clip":true},"encoding":{"xError":{"field":"ex"}}},
{"data":{"name":"cm"},"mark":{"type":"errorbar","ticks":false,"color":"#aaaaaa","opacity":0.3,"thickness":0.8,"clip":true},"encoding":{"yError":{"field":"ey"}}},
{"data":{"name":"cm"},"mark":{"type":"point","filled":true,"color":"black","size":25,"opacity":1,"clip":true}},
{"data":{"name":"cx"},"mark":{"type":"point","filled":true,"color":"black","size":25,"opacity":1,"clip":true}},
{"data":{"name":"co"},"transform":[{"filter":"datum.c=='d'"}],"mark":{"type":"point","filled":true,"color":"red","size":13,"opacity":1,"clip":true}},
{"data":{"name":"co"},"transform":[{"filter":"datum.c=='t'"}],"mark":{"type":"point","shape":"triangle-up","filled":false,"color":"red","size":18,"strokeWidth":0.8,"opacity":0.85,"clip":true}},
{"data":{"name":"ce"},"mark":{"type":"line","interpolate":"cardinal-closed","color":"red","strokeWidth":2,"clip":true},"encoding":{"order":{"field":"i"}}}
]}
]},
{"title":{"text":"Fornax","offset":8},"bounds":"flush","spacing":73,"hconcat":[
{"width":235,"height":246,
"encoding":{"x":{"field":"x","type":"quantitative","scale":{"domain":[-39,132.6],"nice":false,"zero":false},"axis":{"values":[0,50,100],"title":"Proper motion RA [mas/yr]"}},"y":{"field":"y","type":"quantitative","scale":{"domain":[-85.1,35.3],"nice":false,"zero":false},"axis":{"values":[-75,-50,-25,0,25],"title":"Proper motion Dec [mas/yr]"}}},
"layer":[
{"data":{"name":"fm"},"mark":{"type":"point","filled":true,"color":"black","size":12,"opacity":1,"clip":true}},
{"data":{"name":"fx"},"mark":{"type":"point","filled":true,"color":"black","size":12,"opacity":1,"clip":true}},
{"data":{"name":"fo"},"transform":[{"filter":"datum.c=='d'"}],"mark":{"type":"point","filled":true,"color":"red","size":11,"opacity":1,"clip":true}},
{"data":{"name":"fo"},"transform":[{"filter":"datum.c=='t'"}],"mark":{"type":"point","shape":"triangle-up","filled":false,"color":"red","size":16,"strokeWidth":0.7,"opacity":0.85,"clip":true}},
{"data":{"name":"fe"},"mark":{"type":"line","interpolate":"cardinal-closed","color":"red","strokeWidth":1.5,"clip":true},"encoding":{"order":{"field":"i"}}}
]},
{"width":236,"height":246,
"encoding":{"x":{"field":"x","type":"quantitative","scale":{"domain":[-4.97,5.81],"nice":false,"zero":false},"axis":{"values":[0,5],"title":"Proper motion RA [mas/yr]"}},"y":{"field":"y","type":"quantitative","scale":{"domain":[-5.76,5.04],"nice":false,"zero":false},"axis":{"values":[-4,-2,0,2,4],"title":"Proper motion Dec [mas/yr]"}}},
"layer":[
{"data":{"name":"fm"},"mark":{"type":"errorbar","ticks":false,"color":"#aaaaaa","opacity":0.4,"thickness":0.8,"clip":true},"encoding":{"xError":{"field":"ex"}}},
{"data":{"name":"fm"},"mark":{"type":"errorbar","ticks":false,"color":"#aaaaaa","opacity":0.4,"thickness":0.8,"clip":true},"encoding":{"yError":{"field":"ey"}}},
{"data":{"name":"fm"},"mark":{"type":"point","filled":true,"color":"black","size":25,"opacity":1,"clip":true}},
{"data":{"name":"fx"},"mark":{"type":"point","filled":true,"color":"black","size":25,"opacity":1,"clip":true}},
{"data":{"name":"fo"},"transform":[{"filter":"datum.c=='d'"}],"mark":{"type":"point","filled":true,"color":"red","size":13,"opacity":1,"clip":true}},
{"data":{"name":"fo"},"transform":[{"filter":"datum.c=='t'"}],"mark":{"type":"point","shape":"triangle-up","filled":false,"color":"red","size":18,"strokeWidth":0.8,"opacity":0.85,"clip":true}},
{"data":{"name":"fe"},"mark":{"type":"line","interpolate":"cardinal-closed","color":"red","strokeWidth":2,"clip":true},"encoding":{"order":{"field":"i"}}}
]}
]}
],
"spacing":27
}
